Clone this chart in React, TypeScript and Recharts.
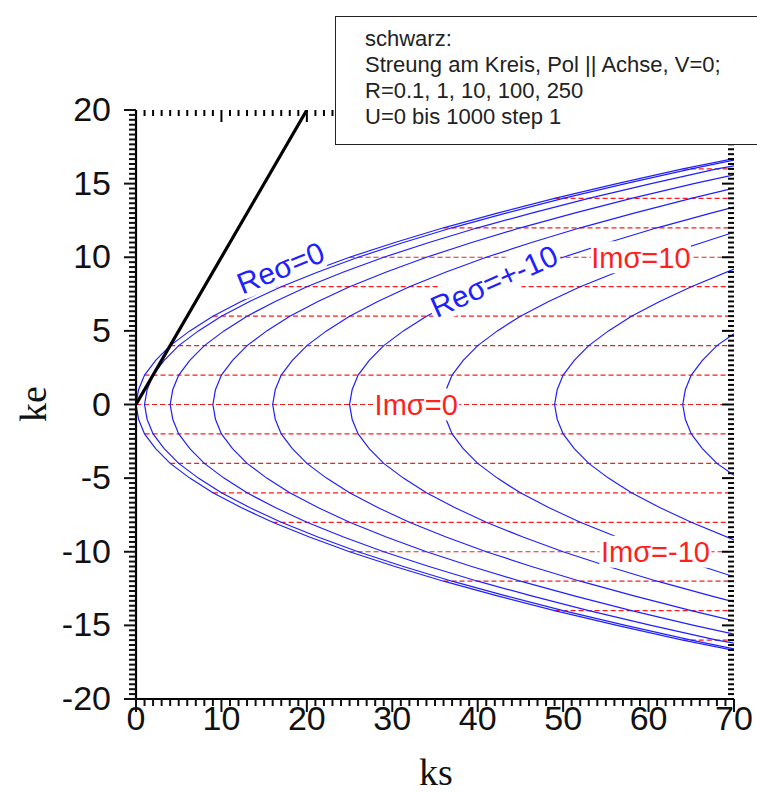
import React from 'react';
import { LineChart, Line, XAxis, YAxis, ReferenceDot } from 'recharts';

// ---------- data ----------
// Blue contour curves: ks read at ke = 0, 1, 2, ... (upper half; the lower half mirrors it)
const reV0 = [0, 0.3, 1, 2.3, 4, 6.3, 9, 12.3, 16, 20.3, 25, 30.3, 36, 42.3, 49, 56.3, 64];
const reV1 = [1, 1.3, 2, 3.3, 5, 7.3, 10, 13.3, 17, 21.3, 26, 31.3, 37, 43.3, 50, 57.3, 65];
const reV4 = [4, 4.3, 5, 6.3, 8, 10.3, 13, 16.3, 20, 24.3, 29, 34.3, 40, 46.3, 53, 60.3, 68];
const reV9 = [9, 9.3, 10, 11.3, 13, 15.3, 18, 21.3, 25, 29.3, 34, 39.3, 45, 51.3, 58, 65.3];
const reV16 = [16, 16.3, 17, 18.3, 20, 22.3, 25, 28.3, 32, 36.3, 41, 46.3, 52, 58.3, 65];
const reV25 = [25, 25.3, 26, 27.3, 29, 31.3, 34, 37.3, 41, 45.3, 50, 55.3, 61, 67.3];
const reV36 = [36, 36.3, 37, 38.3, 40, 42.3, 45, 48.3, 52, 56.3, 61, 66.3];
const reV49 = [49, 49.3, 50, 51.3, 53, 55.3, 58, 61.3, 65];
const reV64 = [64, 64.3, 65, 66.3, 68];
const reCurves = [reV0, reV1, reV4, reV9, reV16, reV25, reV36, reV49, reV64];
// ke where each curve leaves the frame at ks = 70
const reEdgeKe = [16.7, 16.6, 16.2, 15.6, 14.7, 13.4, 11.7, 9.2, 4.8];

// Red dashed Im(sigma) levels: ke level and the ks where each starts
const imKe = [0, 2, 4, 6, 8, 10, 12, 14, 16];
const imStartKs = [0, 1, 4, 9, 16, 25, 36, 49, 64];
const KS_MAX = 70;

// Black line (scattering at the circle)
const blackKs = [0, 20];
const blackKe = [0, 20];

// Axis ticks
const xMajor = [0, 10, 20, 30, 40, 50, 60, 70];
const yMajor = [-20, -15, -10, -5, 0, 5, 10, 15, 20];
const xMinorStep = 1;
const yMinorStep = 1 / 3;

// Annotations
const annText = ['Re\u03c3=0', 'Re\u03c3=+-10', 'Im\u03c3=10', 'Im\u03c3=0', 'Im\u03c3=-10'];
const annKs = [16.9, 41.9, 59.1, 32.8, 60.8];
const annKe = [9.3, 8.4, 10, 0, -10];
const annAngle = [-22, -24, 0, 0, 0];
const annColor = ['#1f1fff', '#1f1fff', '#ff1f1f', '#ff1f1f', '#ff1f1f'];
const annWidth = [88, 140, 100, 86, 112];

const legendLines = [
  'schwarz:',
  'Streung am Kreis, Pol || Achse, V=0;',
  'R=0.1, 1, 10, 100, 250',
  'U=0 bis 1000 step 1',
];

// ---------- build series ----------
const mkCurve = (ks: number[], edge: number) => {
  const up = ks.map((x, i) => ({ ks: x, ke: i }));
  up.push({ ks: KS_MAX, ke: edge });
  const down = up.slice(1).map((p) => ({ ks: p.ks, ke: -p.ke })).reverse();
  return [...down, ...up];
};
const blueSeries = reCurves.map((c, i) => mkCurve(c, reEdgeKe[i]));

const redSeries: { ks: number; ke: number }[][] = [];
imKe.forEach((k, i) => {
  redSeries.push([{ ks: imStartKs[i], ke: k }, { ks: KS_MAX, ke: k }]);
  if (k !== 0) redSeries.push([{ ks: imStartKs[i], ke: -k }, { ks: KS_MAX, ke: -k }]);
});
const blackSeries = blackKs.map((x, i) => ({ ks: x, ke: blackKe[i] }));

const xTicksAll: number[] = [];
for (let i = 0; i <= 70 / xMinorStep + 1e-9; i++) xTicksAll.push(i * xMinorStep);
const yTicksAll: number[] = [];
for (let i = 0; i <= 40 / yMinorStep + 1e-6; i++) yTicksAll.push(-20 + i * yMinorStep);

const isIn = (v: number, arr: number[]) => arr.some((a) => Math.abs(a - v) < 1e-6);

const SANS = 'Liberation Sans, Arial, Helvetica, sans-serif';
const SERIF = 'Liberation Serif, Times New Roman, serif';
const TICK_FS = 34;

// Tick labels (text only)
const BottomLabel = (p: any) => (
  <text x={p.x} y={p.y + 31} textAnchor="middle" fontSize={TICK_FS} fontFamily={SANS} fill="#111">
    {Math.round(p.payload.value)}
  </text>
);
const LeftLabel = (p: any) => (
  <text x={p.x - 25} y={p.y + 11} textAnchor="end" fontSize={TICK_FS} fontFamily={SANS} fill="#111">
    {Math.round(p.payload.value)}
  </text>
);

// Tick marks, positioned through the chart scales
const tickShape = (dx: number, dy: number, color = '#000') => (p: any) => (
  <path d={`M${p.cx},${p.cy}l${dx},${dy}`} stroke={color} strokeWidth={2} fill="none" />
);

const makeAnn = (i: number) => (p: any) => {
  const fs = annAngle[i] !== 0 ? 30 : 29;
  const w = annWidth[i];
  const h = fs * 1.1;
  return (
    <g transform={`translate(${p.cx},${p.cy}) rotate(${annAngle[i]})`}>
      <rect x={-w / 2} y={-h / 2} width={w} height={h} fill="#ffffff" />
      <text x={0} y={fs * 0.36} textAnchor="middle" fontSize={fs} fontFamily={SANS} fill={annColor[i]}>
        {annText[i]}
      </text>
    </g>
  );
};

export default function App() {
  return (
    <div style={{ position: 'absolute', left: 0, top: 0, width: 757, height: 792, background: '#fff', overflow: 'hidden' }}>
      <LineChart width={757} height={792} margin={{ top: 110, right: 23, bottom: 43, left: 76 }}>
        <XAxis
          dataKey="ks"
          type="number"
          domain={[0, 70]}
          allowDataOverflow
          ticks={xMajor}
          interval={0}
          tickSize={0}
          tickMargin={0}
          tickLine={false}
          height={50}
          axisLine={{ stroke: '#000', strokeWidth: 2.2 }}
          tick={BottomLabel}
        />
        <XAxis
          xAxisId="top"
          orientation="top"
          dataKey="ks"
          type="number"
          domain={[0, 70]}
          allowDataOverflow
          ticks={xMajor}
          interval={0}
          tickLine={false}
          tick={false}
          height={0}
          axisLine={{ stroke: '#000', strokeWidth: 2.2 }}
        />
        <YAxis
          type="number"
          domain={[-20, 20]}
          allowDataOverflow
          ticks={yMajor}
          interval={0}
          tickSize={0}
          tickMargin={0}
          tickLine={false}
          width={60}
          axisLine={{ stroke: '#000', strokeWidth: 2.2 }}
          tick={LeftLabel}
        />
        <YAxis
          yAxisId="right"
          orientation="right"
          type="number"
          domain={[-20, 20]}
          allowDataOverflow
          ticks={yMajor}
          interval={0}
          tickLine={false}
          tick={false}
          width={0}
          axisLine={{ stroke: '#000', strokeWidth: 2.2 }}
        />
        {redSeries.map((d, i) => (
          <Line key={'r' + i} data={d} dataKey="ke" type="linear" stroke="#ff1a1a" strokeWidth={1.2}
            strokeDasharray="5 3" dot={false} activeDot={false} isAnimationActive={false} />
        ))}
        {blueSeries.map((d, i) => (
          <Line key={'b' + i} data={d} dataKey="ke" type="linear" stroke="#1f1fff" strokeWidth={1.2}
            dot={false} activeDot={false} isAnimationActive={false} />
        ))}
        <Line data={blackSeries} dataKey="ke" type="linear" stroke="#000" strokeWidth={3.2}
          dot={false} activeDot={false} isAnimationActive={false} />
        {xTicksAll.map((v) => (
          <ReferenceDot key={'xb' + v} x={v} y={-20} r={1} ifOverflow="visible"
            shape={tickShape(0, isIn(v, xMajor) ? 13 : 7, '#111')} />
        ))}
        {xTicksAll.map((v) => (
          <ReferenceDot key={'xt' + v} x={v} y={20} r={1} ifOverflow="visible"
            shape={tickShape(0, isIn(v, xMajor) ? 12 : 6)} />
        ))}
        {yTicksAll.map((v, i) => (
          <ReferenceDot key={'yl' + i} x={0} y={v} r={1} ifOverflow="visible"
            shape={tickShape(isIn(v, yMajor) ? -12 : -7, 0, '#111')} />
        ))}
        {yTicksAll.map((v, i) => (
          <ReferenceDot key={'yr' + i} x={70} y={v} r={1} ifOverflow="visible"
            shape={tickShape(isIn(v, yMajor) ? -12 : -6, 0)} />
        ))}
        {annText.map((t, i) => (
          <ReferenceDot key={'a' + i} x={annKs[i]} y={annKe[i]} r={1} shape={makeAnn(i)} />
        ))}
      </LineChart>
      <div style={{ position: 'absolute', left: 335, top: 16, width: 422, height: 129, boxSizing: 'border-box',
        borderTop: '1.5px solid #222', borderLeft: '1.5px solid #222', borderBottom: '1.5px solid #222', background: '#fff' }} />
      {legendLines.map((t, i) => (
        <div key={'l' + i} style={{ position: 'absolute', left: 365, top: 26 + i * 26, height: 26, lineHeight: '26px',
          fontSize: 22, fontFamily: SANS, color: '#222', whiteSpace: 'nowrap' }}>
          {t}
        </div>
      ))}
      <svg style={{ position: 'absolute', left: 0, top: 0 }} width={757} height={792} pointerEvents="none">
        <text x={436} y={785} textAnchor="middle" fontSize={38} fontFamily={SERIF} fill="#111">ks</text>
        <text x={46} y={404} transform="rotate(-90 46 404)" textAnchor="middle" fontSize={38} fontFamily={SERIF} fill="#111">ke</text>
      </svg>
    </div>
  );
}
